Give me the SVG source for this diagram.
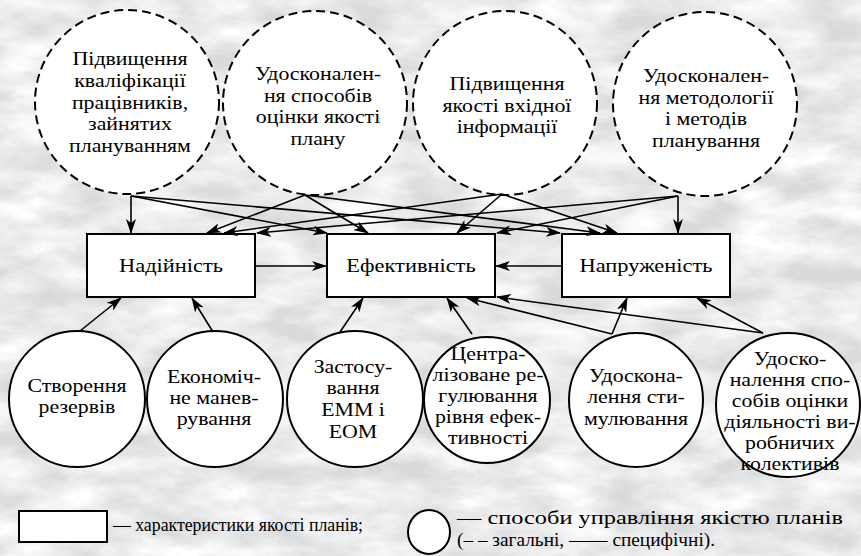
<svg xmlns="http://www.w3.org/2000/svg" width="861" height="556" viewBox="0 0 861 556" font-family="'Liberation Serif', 'Times New Roman', serif">
<style>
text{font-family:'Liberation Serif','Times New Roman',serif;font-size:19px;fill:#000;text-anchor:middle}
.gen{fill:#fff;stroke:#000;stroke-width:2;stroke-dasharray:9 5}
.spec{fill:#fff;stroke:#000;stroke-width:2}
.box{fill:#fff;stroke:#000;stroke-width:2}
.con line{stroke:#000;stroke-width:1.6;marker-end:url(#ah)}
.leg{font-size:19px;text-anchor:start}
</style>
<defs>
<marker id="ah" markerWidth="15" markerHeight="10" refX="14" refY="5" orient="auto" markerUnits="userSpaceOnUse">
<path d="M0,0 L15,5 L0,10 L4,5 z" fill="#000"/>
</marker>
<filter id="marble" x="0" y="0" width="100%" height="100%">
<feTurbulence type="fractalNoise" baseFrequency="0.015 0.035" numOctaves="5" seed="7"/>
<feColorMatrix type="matrix" values="0 0 0 0 1  0 0 0 0 1  0 0 0 0 1  2 0 0 0 -0.55"/>
</filter>
<filter id="veins" x="0" y="0" width="100%" height="100%">
<feTurbulence type="turbulence" baseFrequency="0.025 0.05" numOctaves="3" seed="11"/>
<feColorMatrix type="matrix" values="0 0 0 0 0.55  0 0 0 0 0.56  0 0 0 0 0.58  -3 0 0 0 0.22"/>
</filter>
</defs>
<rect width="861" height="556" fill="#d9dadc"/>
<rect width="861" height="556" filter="url(#marble)"/>
<rect width="861" height="556" filter="url(#veins)"/>

<g id="c1"><circle class="gen" cx="127" cy="102" r="92"/>
<text transform="translate(130 0) scale(1.15 1)"><tspan x="0" y="65">Підвищення</tspan><tspan x="0" y="87">кваліфікації</tspan><tspan x="0" y="109">працівників,</tspan><tspan x="0" y="130">зайнятих</tspan><tspan x="0" y="152">плануванням</tspan></text></g>
<g id="c2"><circle class="gen" cx="315" cy="103" r="92"/>
<text transform="translate(318 0) scale(1.15 1)"><tspan x="0" y="80">Удосконален-</tspan><tspan x="0" y="102">ня способів</tspan><tspan x="0" y="123">оцінки якості</tspan><tspan x="0" y="145">плану</tspan></text></g>
<g id="c3"><circle class="gen" cx="505" cy="103" r="92"/>
<text transform="translate(507 0) scale(1.15 1)"><tspan x="0" y="90">Підвищення</tspan><tspan x="0" y="112">якості вхідної</tspan><tspan x="0" y="133">інформації</tspan></text></g>
<g id="c4"><circle class="gen" cx="705" cy="104" r="92"/>
<text transform="translate(706 0) scale(1.15 1)"><tspan x="0" y="82">Удосконален-</tspan><tspan x="0" y="104">ня методології</tspan><tspan x="0" y="125">і методів</tspan><tspan x="0" y="147">планування</tspan></text></g>

<g id="n1"><rect class="box" x="87" y="234" width="168" height="63"/><text transform="translate(171 0) scale(1.18 1)" x="0" y="272">Надійність</text></g>
<g id="n2"><rect class="box" x="327" y="234" width="168" height="63"/><text transform="translate(411 0) scale(1.18 1)" x="0" y="272">Ефективність</text></g>
<g id="n3"><rect class="box" x="562" y="234" width="168" height="63"/><text transform="translate(646 0) scale(1.18 1)" x="0" y="272">Напруженість</text></g>

<g id="b1"><circle class="spec" cx="77" cy="399" r="68"/>
<text transform="translate(77 0) scale(1.15 1)"><tspan x="0" y="392">Створення</tspan><tspan x="0" y="413">резервів</tspan></text></g>
<g id="b2"><circle class="spec" cx="215" cy="399" r="68"/>
<text transform="translate(214 0) scale(1.15 1)"><tspan x="0" y="383">Економіч-</tspan><tspan x="0" y="404">не манев-</tspan><tspan x="0" y="425">рування</tspan></text></g>
<g id="b3"><circle class="spec" cx="355" cy="399" r="68"/>
<text transform="translate(353 0) scale(1.15 1)"><tspan x="0" y="373">Застосу-</tspan><tspan x="0" y="394">вання</tspan><tspan x="0" y="416">ЕММ і</tspan><tspan x="0" y="438">ЕОМ</tspan></text></g>
<g id="b4"><circle class="spec" cx="487" cy="400" r="63"/>
<text transform="translate(488 0) scale(1.15 1)"><tspan x="0" y="360">Центра-</tspan><tspan x="0" y="381">лізоване ре-</tspan><tspan x="0" y="402">гулювання</tspan><tspan x="0" y="423">рівня ефек-</tspan><tspan x="0" y="444">тивності</tspan></text></g>
<g id="b5"><circle class="spec" cx="636" cy="400" r="67"/>
<text transform="translate(636 0) scale(1.15 1)"><tspan x="0" y="382">Удоскона-</tspan><tspan x="0" y="403">лення сти-</tspan><tspan x="0" y="425">мулювання</tspan></text></g>
<g id="b6"><circle class="spec" cx="788" cy="405" r="72"/>
<text transform="translate(790 0) scale(1.15 1)"><tspan x="0" y="365">Удоско-</tspan><tspan x="0" y="386">налення спо-</tspan><tspan x="0" y="407">собів оцінки</tspan><tspan x="0" y="428">діяльності ви-</tspan><tspan x="0" y="449">робничих</tspan><tspan x="0" y="470">колективів</tspan></text></g>

<g id="connectors" class="con">
<line x1="131" y1="196" x2="131" y2="233"/>
<line x1="131" y1="196" x2="327" y2="233"/>
<line x1="131" y1="196" x2="560" y2="233"/>
<line x1="305" y1="195" x2="207" y2="233"/>
<line x1="305" y1="195" x2="368" y2="233"/>
<line x1="305" y1="195" x2="600" y2="233"/>
<line x1="502" y1="194" x2="224" y2="233"/>
<line x1="502" y1="194" x2="457" y2="233"/>
<line x1="502" y1="194" x2="617" y2="233"/>
<line x1="678" y1="196" x2="257" y2="233"/>
<line x1="678" y1="196" x2="497" y2="233"/>
<line x1="678" y1="196" x2="678" y2="233"/>
<line x1="255" y1="266" x2="326" y2="266"/>
<line x1="562" y1="266" x2="496" y2="266"/>
<line x1="80" y1="331" x2="121" y2="298"/>
<line x1="213" y1="332" x2="192" y2="298"/>
<line x1="340" y1="332" x2="363" y2="298"/>
<line x1="472" y1="334" x2="447" y2="298"/>
<line x1="612" y1="334" x2="467" y2="298"/>
<line x1="612" y1="334" x2="627" y2="298"/>
<line x1="763" y1="333" x2="497" y2="297"/>
<line x1="763" y1="333" x2="697" y2="298"/>
</g>

<g id="legend">
<rect class="box" x="19" y="511" width="88" height="31"/>
<text class="leg" x="113" y="531" textLength="250" lengthAdjust="spacingAndGlyphs">— характеристики якості планів;</text>
<ellipse class="spec" cx="429" cy="532" rx="21" ry="22"/>
<text class="leg" x="457" y="524" textLength="386" lengthAdjust="spacingAndGlyphs">— способи управління якістю планів</text>
<text class="leg" x="457" y="546" textLength="258" lengthAdjust="spacingAndGlyphs">(– – загальні, —— специфічні).</text>
</g>
</svg>
